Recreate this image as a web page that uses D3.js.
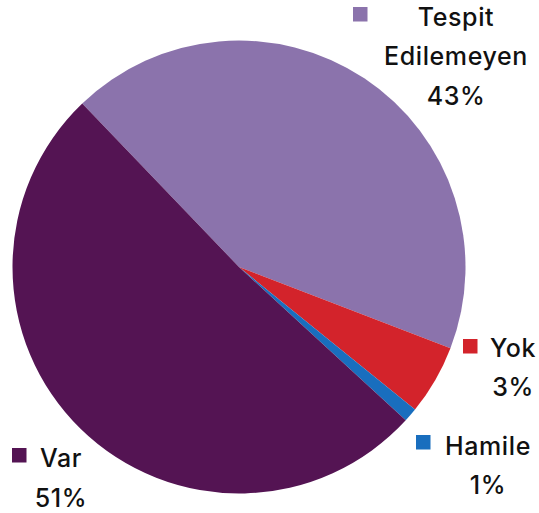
<!DOCTYPE html>
<html>
<head>
<meta charset="utf-8">
<script src="https://cdn.jsdelivr.net/npm/d3@7"></script>
<style>
  html, body { margin: 0; padding: 0; background: #ffffff; }
  svg { display: block; }
  text { font-family: "Inter", "Open Sans", "DejaVu Sans", sans-serif; font-weight: 500; fill: #111111; letter-spacing: 0.6px; }
</style>
</head>
<body>
<svg id="chart" width="539" height="513"></svg>
<script>
// ---- data ----
const categories = ["Tespit Edilemeyen", "Yok", "Hamile", "Var"];
const values = [43, 5, 1, 51];            // slice sizes as drawn
const percentLabels = ["43%", "3%", "1%", "51%"]; // labels as printed
const colors = ["#8b73ac", "#d3232b", "#196ebe", "#541453"];

// ---- layout ----
const cx = 239, cy = 267, R = 226.5;
const start = -43.8 * Math.PI / 180;

const svg = d3.select("#chart");

const pie = d3.pie().sort(null).value(d => d.value)
  .startAngle(start).endAngle(start + 2 * Math.PI);
const arc = d3.arc().innerRadius(0).outerRadius(R);

const data = categories.map((c, i) => ({ name: c, value: values[i], pct: percentLabels[i], color: colors[i] }));

svg.append("g").attr("transform", `translate(${cx},${cy})`)
  .selectAll("path").data(pie(data)).join("path")
  .attr("d", arc)
  .attr("fill", d => d.data.color);

// label placement (layout only)
const labelLayout = {
  "Tespit Edilemeyen": { sq: [353, 7], tx: 456, lines: ["Tespit", "Edilemeyen"], base: 25.5 },
  "Yok": { sq: [463, 339], tx: 513, lines: ["Yok"], base: 356.5 },
  "Hamile": { sq: [416, 435], tx: 488, lines: ["Hamile"], base: 454.5 },
  "Var": { sq: [12, 448], tx: 61, lines: ["Var"], base: 467 }
};
const lineStep = 39.5;
const fs = 25;

data.forEach(d => {
  const L = labelLayout[d.name];
  const g = svg.append("g");
  g.append("rect").attr("x", L.sq[0]).attr("y", L.sq[1])
    .attr("width", 14.5).attr("height", 14.5).attr("fill", d.color);
  const lines = L.lines.concat([d.pct]);
  lines.forEach((t, i) => {
    g.append("text")
      .attr("x", L.tx).attr("y", L.base + i * lineStep)
      .attr("text-anchor", "middle")
      .attr("font-size", fs)
      .text(t);
  });
});
</script>
</body>
</html>
